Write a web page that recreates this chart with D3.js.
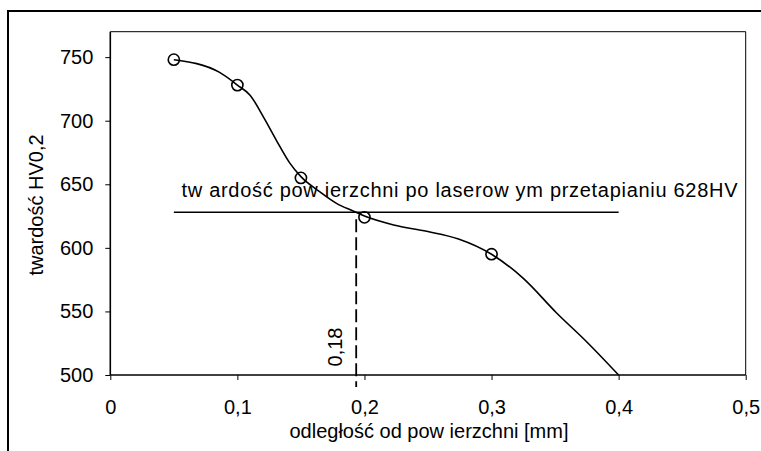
<!DOCTYPE html>
<html><head><meta charset="utf-8">
<script src="https://cdn.jsdelivr.net/npm/d3@7"></script>
<style>body{margin:0;background:#fff}svg{display:block}text{font-family:"Liberation Sans",Arial,sans-serif;fill:#000}</style>
</head><body>
<svg id="c" width="761" height="451"></svg>
<script>
const xTicks = [0, 0.1, 0.2, 0.3, 0.4, 0.5];
const xTickLabels = ["0", "0,1", "0,2", "0,3", "0,4", "0,5"];
const yTicks = [500, 550, 600, 650, 700, 750];
const yTickLabels = ["500", "550", "600", "650", "700", "750"];
const markX = [0.05, 0.1, 0.15, 0.2, 0.3];
const markY = [748, 728, 655, 624, 595];
const curveX = [0.05, 0.086, 0.1, 0.11, 0.121, 0.131, 0.141, 0.15, 0.165, 0.178, 0.191, 0.2, 0.223, 0.249, 0.274, 0.3, 0.325, 0.351, 0.375, 0.4];
const curveY = [748, 738, 728, 720, 702, 684, 667, 656, 644, 635, 629, 625, 618, 613, 607, 595, 576, 549, 526, 500];
const refX = [0.05, 0.4];
const refY = [628, 628];
const cutX = [0.1935, 0.1935];
const cutY = [628, 490.5];
const refLabel = "tw ardość pow ierzchni po laserow ym przetapianiu 628HV";
const cutLabel = "0,18";
const xTitle = "odległość od pow ierzchni [mm]";
const yTitle = "twardość HV0,2";

const FS = 20;
const svg = d3.select("#c");
const L = 110.3, R = 745.7, T = 31.7, B = 375;
const x = d3.scaleLinear().domain([0, 0.5]).range([L, R]);
const y = d3.scaleLinear().domain([500, 770]).range([B, T]);

// outer frame (top and left visible)
svg.append("line").attr("x1", 8).attr("x2", 761).attr("y1", 11).attr("y2", 11).attr("stroke", "#000").attr("stroke-width", 2);
svg.append("line").attr("x1", 8).attr("x2", 8).attr("y1", 10).attr("y2", 451).attr("stroke", "#000").attr("stroke-width", 2);

// plot area border top/right
svg.append("line").attr("x1", L).attr("x2", R).attr("y1", T).attr("y2", T).attr("stroke", "#000").attr("stroke-width", 1);
svg.append("line").attr("x1", R).attr("x2", R).attr("y1", T).attr("y2", B).attr("stroke", "#000").attr("stroke-width", 1);

// axes
const xAxis = svg.append("g").attr("transform", `translate(0,${B})`)
  .call(d3.axisBottom(x).tickValues(xTicks).tickFormat((d, i) => xTickLabels[i]).tickSize(5).tickPadding(20));
const yAxis = svg.append("g").attr("transform", `translate(${L},0)`)
  .call(d3.axisLeft(y).tickValues(yTicks).tickFormat((d, i) => yTickLabels[i]).tickSize(5).tickPadding(12));
[xAxis, yAxis].forEach(g => {
  g.attr("font-size", FS).attr("font-family", "Liberation Sans, Arial, sans-serif");
  g.select(".domain").attr("stroke", "#000").attr("stroke-width", 1.6);
  g.selectAll(".tick line").attr("stroke", "#000").attr("stroke-width", 1);
  g.selectAll(".tick text").attr("font-size", FS).attr("fill", "#000");
});
yAxis.select(".domain").attr("d", `M0,${T}V${B}`);
xAxis.select(".domain").attr("d", `M${L},0H${R}`);

// reference horizontal line
svg.append("line").attr("x1", x(refX[0])).attr("x2", x(refX[1])).attr("y1", y(refY[0])).attr("y2", y(refY[1]))
  .attr("stroke", "#000").attr("stroke-width", 1.6);
// dashed vertical line
svg.append("line").attr("x1", x(cutX[0])).attr("x2", x(cutX[1])).attr("y1", y(cutY[0]) + 7).attr("y2", y(cutY[1]))
  .attr("stroke", "#000").attr("stroke-width", 1.8).attr("stroke-dasharray", "13,5");

// curve
const pts = curveX.map((v, i) => [v, curveY[i]]);
svg.append("path").attr("d", d3.line().x(d => x(d[0])).y(d => y(d[1])).curve(d3.curveMonotoneX)(pts))
  .attr("fill", "none").attr("stroke", "#000").attr("stroke-width", 1.6);

// markers
svg.selectAll("circle.m").data(markX.map((v, i) => [v, markY[i]])).enter().append("circle")
  .attr("cx", d => x(d[0])).attr("cy", d => y(d[1])).attr("r", 5.6)
  .attr("fill", "none").attr("stroke", "#000").attr("stroke-width", 1.6);

// labels
svg.append("text").attr("x", 181.5).attr("y", 196.7).attr("font-size", FS).attr("textLength", 556).attr("lengthAdjust", "spacing")
  .style("white-space", "pre").text(refLabel);
svg.append("text").attr("transform", `translate(${x(cutX[0]) - 14},347) rotate(-90)`).attr("text-anchor", "middle")
  .attr("font-size", FS).text(cutLabel);
svg.append("text").attr("x", 429).attr("y", 438.3).attr("text-anchor", "middle").attr("font-size", FS).text(xTitle);
svg.append("text").attr("transform", `translate(43.3,205) rotate(-90)`).attr("text-anchor", "middle").attr("font-size", FS).text(yTitle);
</script>
</body></html>
